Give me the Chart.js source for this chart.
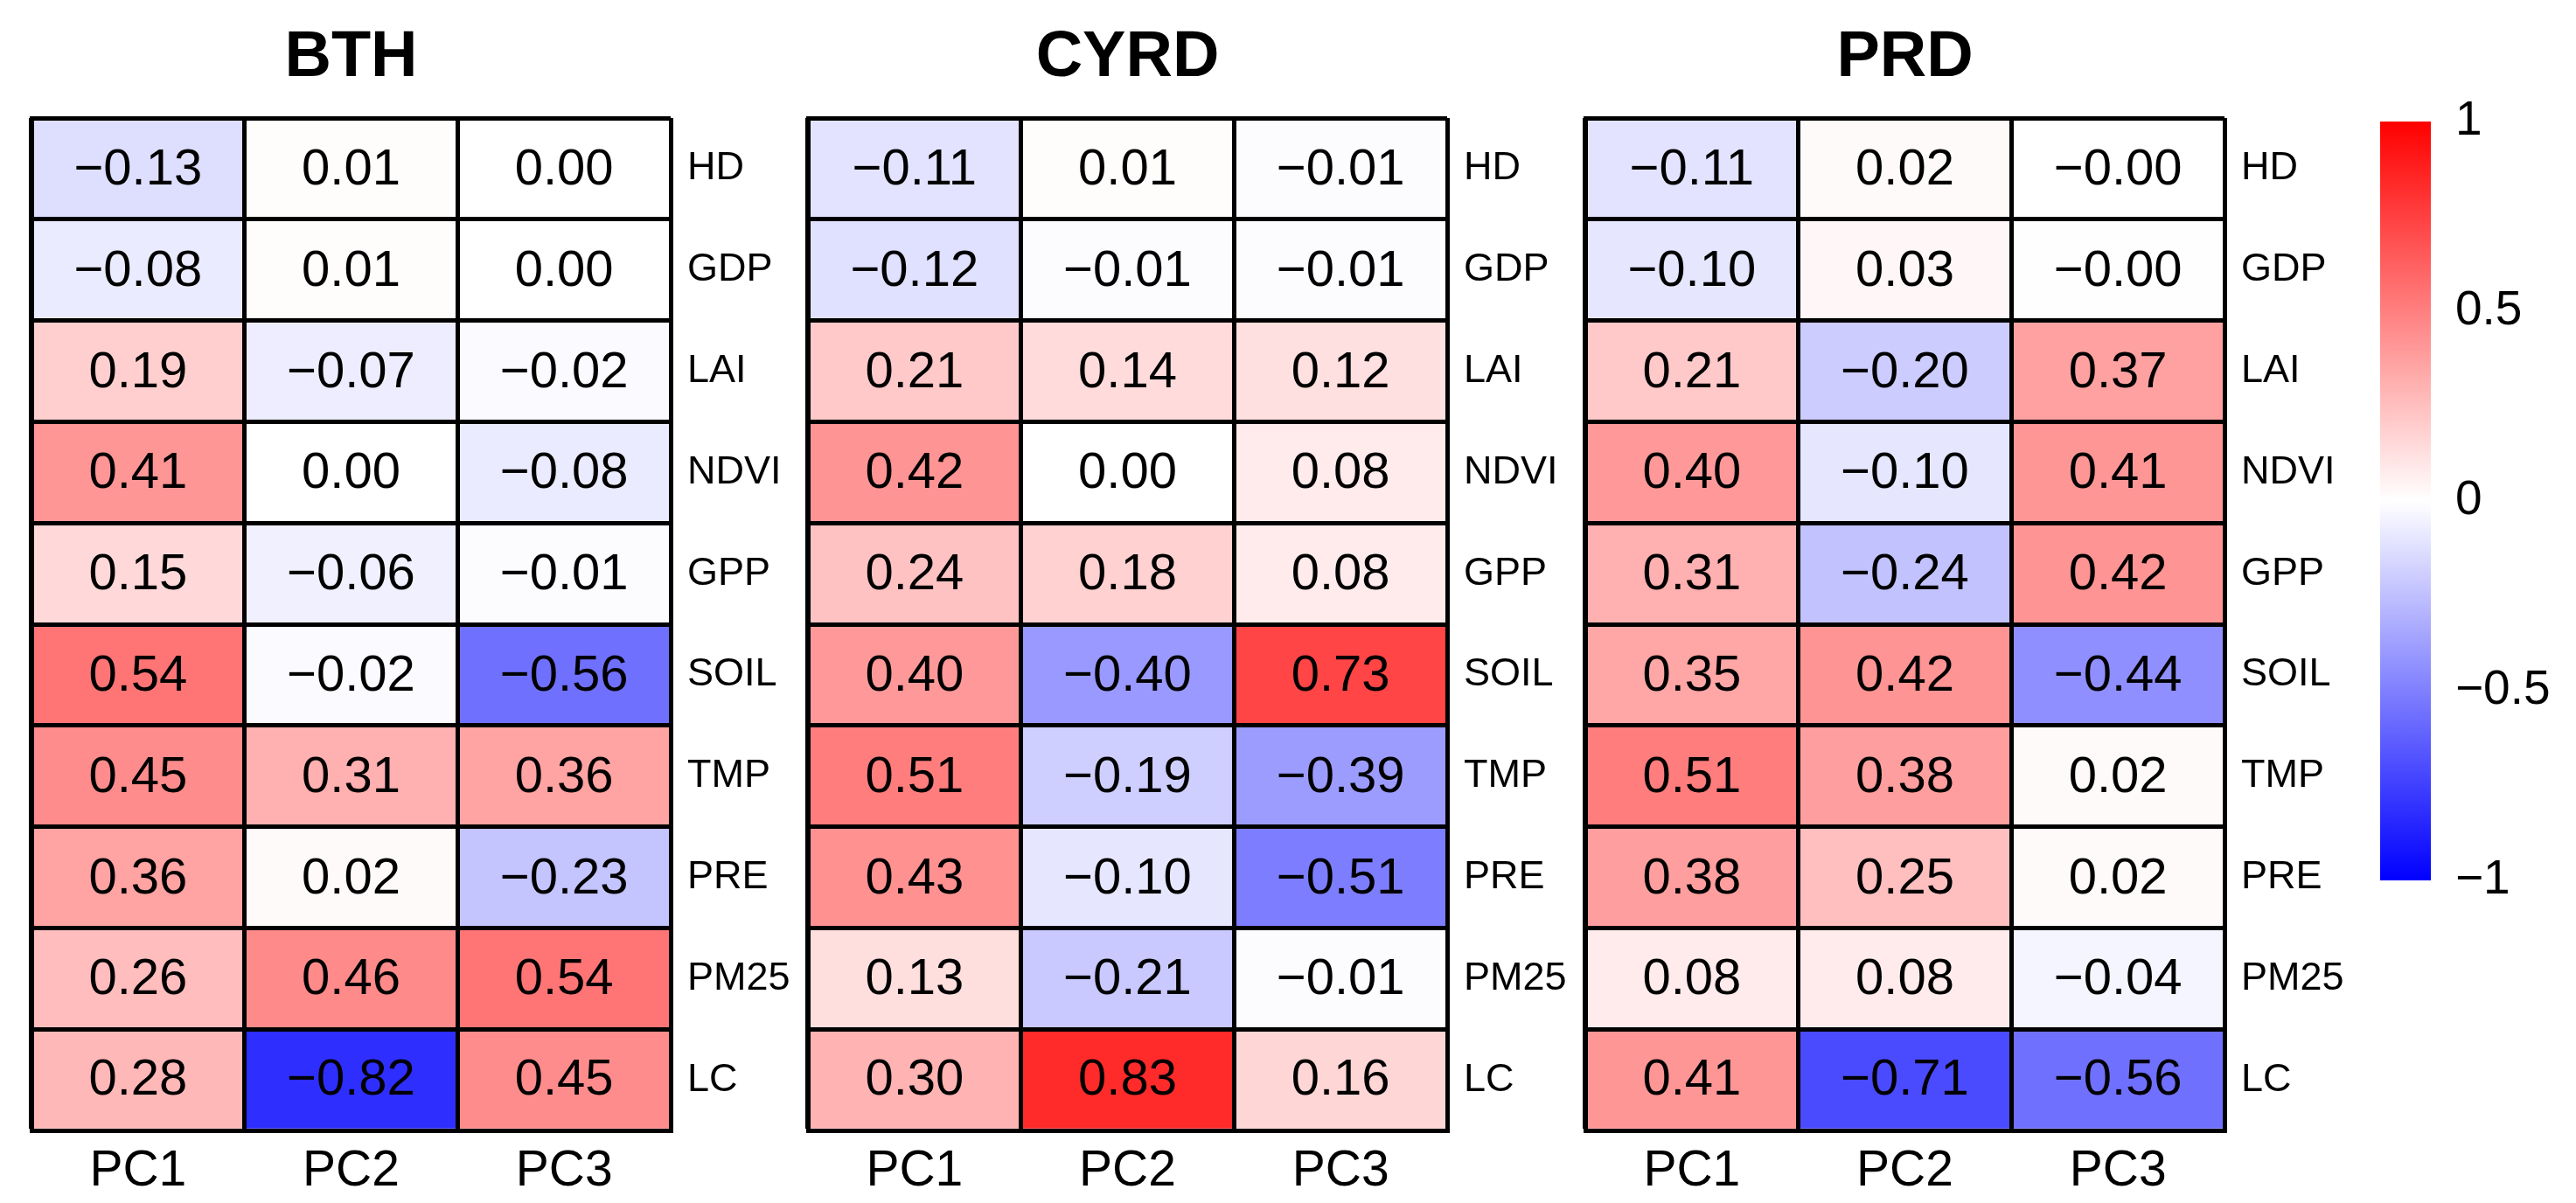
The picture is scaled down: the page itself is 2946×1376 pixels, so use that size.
<!DOCTYPE html>
<html>
<head>
<meta charset="utf-8">
<script src="https://cdn.jsdelivr.net/npm/chart.js@4.4.0/dist/chart.umd.min.js"></script>
<style>
html,body{margin:0;padding:0;background:#fff;width:2946px;height:1376px;overflow:hidden}
canvas{position:absolute;top:0}
</style>
</head>
<body>
<canvas id="bth" width="920" height="1376" style="left:0px"></canvas>
<canvas id="cyrd" width="920" height="1376" style="left:888px"></canvas>
<canvas id="prd" width="920" height="1376" style="left:1777px"></canvas>
<canvas id="cbar" width="246" height="1376" style="left:2700px"></canvas>
<script>
// ---------- data ----------
const variables = ['HD','GDP','LAI','NDVI','GPP','SOIL','TMP','PRE','PM25','LC'];
const components = ['PC1','PC2','PC3'];

const bthPC1 = [-0.13, -0.08, 0.19, 0.41, 0.15, 0.54, 0.45, 0.36, 0.26, 0.28];
const bthPC2 = [ 0.01,  0.01,-0.07, 0.00,-0.06,-0.02, 0.31, 0.02, 0.46,-0.82];
const bthPC3 = [ 0.00,  0.00,-0.02,-0.08,-0.01,-0.56, 0.36,-0.23, 0.54, 0.45];

const cyrdPC1 = [-0.11, -0.12, 0.21, 0.42, 0.24, 0.40, 0.51, 0.43, 0.13, 0.30];
const cyrdPC2 = [ 0.01, -0.01, 0.14, 0.00, 0.18,-0.40,-0.19,-0.10,-0.21, 0.83];
const cyrdPC3 = [-0.01, -0.01, 0.12, 0.08, 0.08, 0.73,-0.39,-0.51,-0.01, 0.16];

const prdPC1 = [-0.11, -0.10, 0.21, 0.40, 0.31, 0.35, 0.51, 0.38, 0.08, 0.41];
const prdPC2 = [ 0.02,  0.03,-0.20,-0.10,-0.24, 0.42, 0.38, 0.25, 0.08,-0.71];
const prdPC3 = [-0.001,-0.002,0.37, 0.41, 0.42,-0.44, 0.02, 0.02,-0.04,-0.56];

const colorbarTicks = [-1, -0.5, 0, 0.5, 1];

// ---------- helpers ----------
const FONT = '"Liberation Sans", Arial, Helvetica, sans-serif';
function valueColor(v){
  const t = Math.min(1, Math.abs(v));
  const c = Math.round(255 * (1 - t));
  return v >= 0 ? `rgb(255,${c},${c})` : `rgb(${c},${c},255)`;
}
function fmt(v){ return v.toFixed(2).replace('-', '\u2212'); }

const cellLabels = {
  id: 'cellLabels',
  afterDatasetsDraw(chart){
    const ctx = chart.ctx;
    ctx.save();
    ctx.font = `58px ${FONT}`;
    ctx.fillStyle = '#000';
    ctx.textAlign = 'center';
    ctx.textBaseline = 'middle';
    chart.data.datasets.forEach((ds, di) => {
      const meta = chart.getDatasetMeta(di);
      meta.data.forEach((el, ci) => {
        const p = el.getCenterPoint();
        ctx.fillText(fmt(ds.values[ci]), p.x, p.y + 2);
      });
    });
    ctx.restore();
  }
};

function makeHeatmap(id, title, cols){
  const n = variables.length;
  new Chart(document.getElementById(id), {
    type: 'bar',
    data: {
      labels: components,
      datasets: variables.map((name, r) => ({
        label: name,
        data: cols.map(() => [n - 1 - r, n - r]),
        values: cols.map(c => c[r]),
        backgroundColor: cols.map(c => valueColor(c[r])),
        borderWidth: 0,
        grouped: false,
        barPercentage: 1,
        categoryPercentage: 1,
        yAxisID: 'y'
      }))
    },
    options: {
      responsive: false,
      devicePixelRatio: 1,
      animation: false,
      layout: { padding: { left: 36, right: 0, top: 0, bottom: 0 } },
      plugins: {
        legend: { display: false },
        tooltip: { enabled: false },
        title: {
          display: true, text: title, fullSize: false, color: '#000',
          font: { family: FONT, size: 74, weight: 'bold', lineHeight: 1 },
          padding: { top: 30, bottom: 31 }
        }
      },
      scales: {
        x: {
          type: 'category',
          grid: { color: '#000', lineWidth: 5, drawTicks: false, offset: true, z: 2 },
          border: { color: '#000', width: 5, z: 3 },
          ticks: { color: '#000', font: { family: FONT, size: 57 }, padding: 13 },
          afterFit(s){ s.height = 83; }
        },
        y: {
          type: 'linear', position: 'left', min: 0, max: n,
          grid: { color: '#000', lineWidth: 5, drawTicks: false, z: 2 },
          border: { color: '#000', width: 5, z: 3 },
          ticks: { display: false, stepSize: 1 },
          afterFit(s){ s.width = 0; }
        },
        y2: {
          type: 'linear', position: 'right', min: 0, max: n,
          grid: { display: false, drawTicks: false },
          border: { display: false },
          afterBuildTicks(s){ s.ticks = variables.map((_, i) => ({ value: n - 0.5 - i })); },
          ticks: {
            color: '#000', font: { family: FONT, size: 45 }, padding: 19,
            callback: (v, i) => variables[i]
          },
          afterFit(s){ s.width = 153; }
        }
      }
    },
    plugins: [cellLabels]
  });
}

makeHeatmap('bth', 'BTH', [bthPC1, bthPC2, bthPC3]);
makeHeatmap('cyrd', 'CYRD', [cyrdPC1, cyrdPC2, cyrdPC3]);
makeHeatmap('prd', 'PRD', [prdPC1, prdPC2, prdPC3]);

// colour bar
new Chart(document.getElementById('cbar'), {
  type: 'bar',
  data: {
    labels: [''],
    datasets: [{
      data: [[colorbarTicks[0], colorbarTicks[colorbarTicks.length - 1]]],
      backgroundColor(ctx){
        const a = ctx.chart.chartArea;
        if (!a) return '#fff';
        const g = ctx.chart.ctx.createLinearGradient(0, a.bottom, 0, a.top);
        g.addColorStop(0, 'rgb(0,0,255)');
        g.addColorStop(0.5, 'rgb(255,255,255)');
        g.addColorStop(1, 'rgb(255,0,0)');
        return g;
      },
      borderWidth: 0, barPercentage: 1, categoryPercentage: 1
    }]
  },
  options: {
    responsive: false, devicePixelRatio: 1, animation: false,
    layout: { padding: { left: 22, top: 139, bottom: 369, right: 0 } },
    plugins: { legend: { display: false }, tooltip: { enabled: false } },
    scales: {
      x: { display: false },
      y: {
        type: 'linear', position: 'right', min: -1, max: 1,
        grid: { display: false, drawTicks: false },
        border: { display: false },
        afterBuildTicks(s){ s.ticks = colorbarTicks.map(v => ({ value: v })); },
        ticks: {
          color: '#000', font: { family: FONT, size: 55 }, padding: 28,
          callback: v => String(v).replace('-', '\u2212')
        },
        afterFit(s){ s.width = 166; }
      }
    }
  }
});
</script>
</body>
</html>
